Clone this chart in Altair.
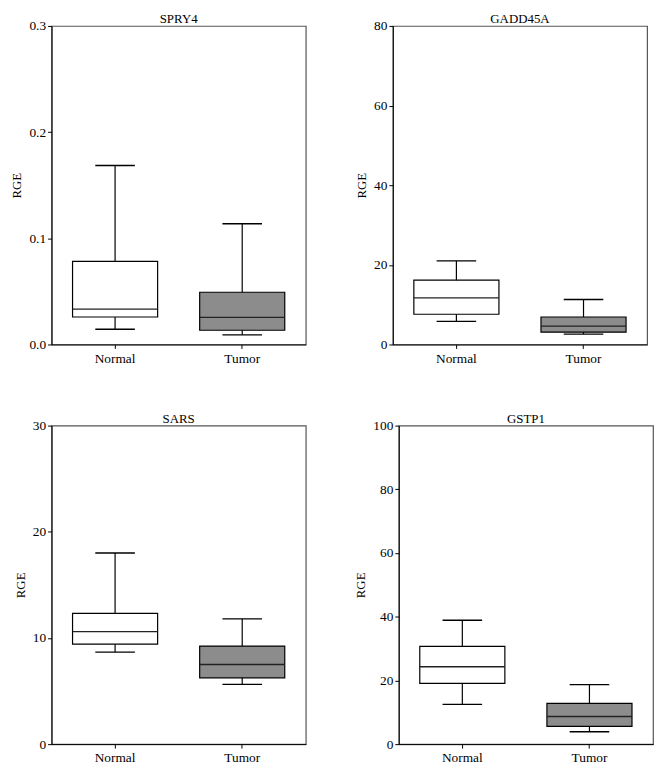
import altair as alt
import pandas as pd

genes = ["SPRY4", "GADD45A", "SARS", "GSTP1"]
groups = ["Normal", "Tumor"]
y_max = [0.3, 80, 30, 100]
y_ticks = [[0, 0.1, 0.2, 0.3], [0, 20, 40, 60, 80], [0, 10, 20, 30], [0, 20, 40, 60, 80, 100]]
y_format = [".1f", "d", "d", "d"]

# per gene: [Normal, Tumor]
mins = [[0.0143, 0.0091], [5.8, 2.6], [8.67, 5.63], [12.5, 3.9]]
q1s = [[0.0259, 0.0134], [7.6, 3.1], [9.42, 6.25], [19.1, 5.6]]
medians = [[0.0333, 0.0255], [11.7, 4.6], [10.6, 7.5], [24.3, 8.7]]
q3s = [[0.0782, 0.0492], [16.15, 6.9], [12.31, 9.24], [30.7, 12.8]]
maxs = [[0.1685, 0.1137], [21.0, 11.3], [18.0, 11.8], [38.9, 18.7]]
fills = ["#ffffff", "#8c8c8c"]

FONT = "Liberation Serif"
W, H = 257, 322


def panel(i):
    df = pd.DataFrame({
        "group": groups,
        "lo": mins[i],
        "q1": q1s[i],
        "med": medians[i],
        "q3": q3s[i],
        "hi": maxs[i],
        "fill": fills,
    })
    x = alt.X("group:N", title=None, sort=groups,
              scale=alt.Scale(paddingInner=0, paddingOuter=0),
              axis=alt.Axis(labelAngle=0, labelFont=FONT, labelFontSize=13.5,
                            labelColor="black", domainColor="black",
                            tickColor="black", tickSize=4, labelPadding=3))
    y_scale = alt.Scale(domain=[0, y_max[i]], nice=False)
    y_axis = alt.Axis(values=y_ticks[i], format=y_format[i], grid=False,
                      title="RGE", titleFont=FONT, titleFontSize=13,
                      titleFontWeight="normal", titleColor="black",
                      labelFont=FONT, labelFontSize=13.5, labelColor="black",
                      domainColor="black", tickColor="black", tickSize=4,
                      labelPadding=2, titlePadding=5)
    base = alt.Chart(df)
    whisk = base.mark_rule(color="black", strokeWidth=1.2).encode(
        x=x, y=alt.Y("lo:Q", scale=y_scale, axis=y_axis), y2="hi:Q")
    box = base.mark_bar(size=86, stroke="black", strokeWidth=1.2).encode(
        x=x, y=alt.Y("q1:Q"), y2="q3:Q",
        fill=alt.Fill("fill:N", scale=None))
    med = base.mark_tick(size=86, thickness=1.4, color="#222222", opacity=1).encode(
        x=x, y="med:Q")
    cap_lo = base.mark_tick(size=40, thickness=1.4, color="black", opacity=1).encode(
        x=x, y="lo:Q")
    cap_hi = base.mark_tick(size=40, thickness=1.4, color="black", opacity=1).encode(
        x=x, y="hi:Q")
    return alt.layer(whisk, box, med, cap_lo, cap_hi).properties(
        width=W, height=H,
        title=alt.TitleParams(genes[i], font=FONT, fontSize=13,
                              fontWeight="normal", color="black", offset=-7))


row1 = alt.hconcat(panel(0), panel(1), spacing=48)
row2 = alt.hconcat(panel(2), panel(3), spacing=48)
chart = alt.vconcat(row1, row2, spacing=46).properties(
    padding={"left": 2, "top": 0, "right": 0, "bottom": 0}
).configure_view(stroke="#555555", strokeWidth=1.2)

chart.save("out.html", embed_options={"renderer": "svg", "actions": False})
